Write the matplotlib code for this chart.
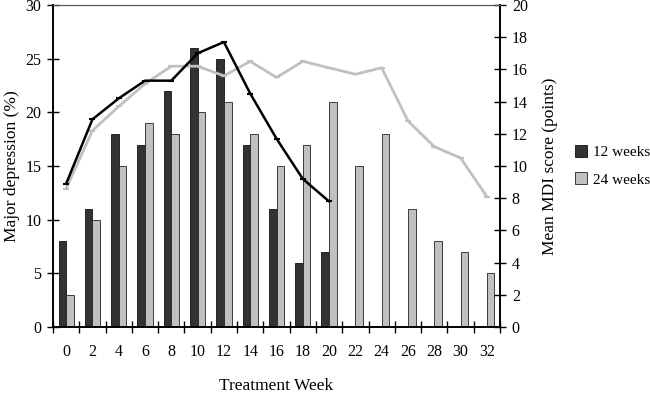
#!/usr/bin/env python3
"""
Major depression rate and mean MDI score by treatment week (12 vs 24 weeks).
"""

import matplotlib

matplotlib.use("Agg")
import matplotlib.pyplot as plt
from matplotlib.patches import Patch
import numpy as np

weeks = [0, 2, 4, 6, 8, 10, 12, 14, 16, 18, 20, 22, 24, 26, 28, 30, 32]

# % major depression (left axis)
dep_12 = [8, 11, 18, 17, 22, 26, 25, 17, 11, 6, 7]
dep_24 = [3, 10, 15, 19, 18, 20, 21, 18, 15, 17, 21, 15, 18, 11, 8, 7, 5]

# mean MDI score (right axis)
mdi_12 = [8.9, 12.9, 14.2, 15.3, 15.3, 17.0, 17.7, 14.5, 11.7, 9.2, 7.8]
mdi_24 = [8.6, 12.2, 13.7, 15.1, 16.2, 16.2, 15.6, 16.5, 15.5, 16.5,
          16.1, 15.7, 16.1, 12.8, 11.2, 10.5, 8.1]

DARK = "#333333"
LIGHT = "#c0c0c0"

plt.rcParams["font.family"] = ["Liberation Serif", "DejaVu Serif"]
plt.rcParams["font.size"] = 11.5

fig = plt.figure(figsize=(6.5, 3.99), dpi=100)
ax1 = fig.add_axes([53 / 650, 1 - 327 / 399, 447 / 650, 322 / 399])
ax2 = ax1.twinx()

x = np.arange(len(weeks))
w = 0.29
ax1.bar(x[:len(dep_12)] - w / 2, dep_12, w, color=DARK, edgecolor="#111111", lw=0.6, zorder=2)
ax1.bar(x + w / 2, dep_24, w, color=LIGHT, edgecolor="#222222", lw=0.6, zorder=2)

ax2.plot(x, mdi_24, "-", color=LIGHT, lw=2, marker="_", ms=5, mew=1.5)
ax2.plot(x[:len(mdi_12)], mdi_12, "-", color="black", lw=1.8, marker="_", ms=5, mew=1.5)

ax1.set_xlim(-0.5, len(weeks) - 0.5)
ax1.set_ylim(0, 30)
ax2.set_ylim(0, 20)
ax1.set_yticks(range(0, 31, 5))
ax2.set_yticks(range(0, 21, 2))

ax1.set_xticks(x)
ax1.set_xticklabels([str(v) for v in weeks])
ax1.set_xticks(np.arange(len(weeks) + 1) - 0.5, minor=True)
ax1.tick_params(axis="x", which="major", length=0, pad=12)
ax1.tick_params(axis="x", which="minor", direction="inout", length=8, width=1)
ax1.tick_params(axis="y", direction="inout", length=9, width=1, pad=4)
ax2.tick_params(axis="y", direction="inout", length=9, width=1, pad=4)

for ax in (ax1, ax2):
    for s in ("left", "right", "bottom"):
        ax.spines[s].set_linewidth(1.2)
    ax.spines["top"].set_linewidth(0.8)
    ax.spines["top"].set_color("#555555")

ax1.set_ylabel("Major depression (%)", fontsize=12.5, labelpad=4)
ax2.set_ylabel("Mean MDI score (points)", fontsize=12.5, labelpad=10)
ax1.set_xlabel("Treatment Week", fontsize=12.5, labelpad=13)

handles = [Patch(facecolor=DARK, edgecolor="#111111", lw=0.6),
           Patch(facecolor=LIGHT, edgecolor="#222222", lw=0.6)]
fig.legend(handles, ["12 weeks", "24 weeks"], loc="center left",
           bbox_to_anchor=(0.885, 0.584), frameon=False, fontsize=11,
           borderpad=0, borderaxespad=0,
           handlelength=0.8, handleheight=0.8, handletextpad=0.35, labelspacing=0.85)

fig.savefig("out.png", dpi=100)
plt.close(fig)
